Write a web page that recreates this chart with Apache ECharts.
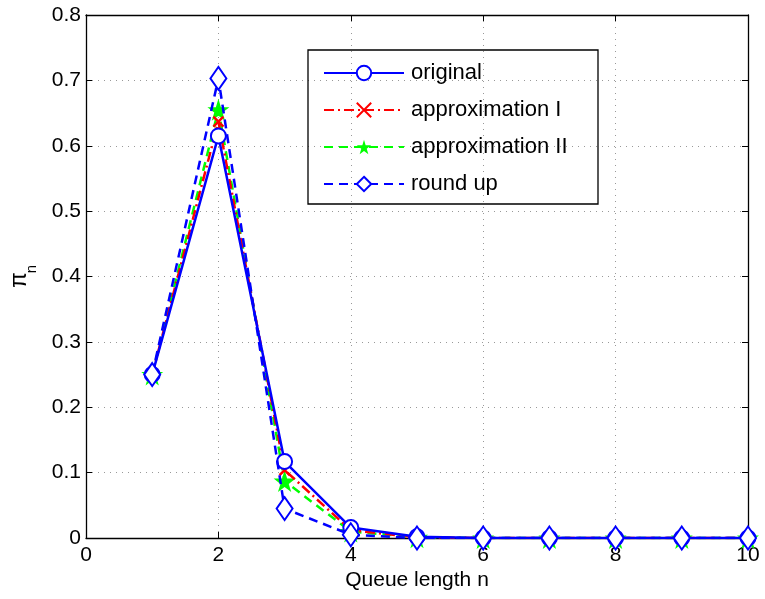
<!DOCTYPE html>
<html><head><meta charset="utf-8">
<script src="https://cdn.jsdelivr.net/npm/echarts@6/dist/echarts.min.js"></script>
<style>html,body{margin:0;padding:0;background:#fff}#c{width:765px;height:599px}</style>
</head><body><div id="c"></div>
<script>
const n = [1,2,3,4,5,6,7,8,9,10];
const original = [0.25,0.615,0.117,0.016,0.002,0,0,0,0,0];
const approx1  = [0.25,0.637,0.104,0.012,0.001,0,0,0,0,0];
const approx2  = [0.25,0.655,0.087,0.010,0.001,0,0,0,0,0];
const roundUp  = [0.25,0.703,0.045,0.005,0,0,0,0,0,0];
const seriesNames = ['original','approximation I','approximation II','round up'];
const xTicks = [0,2,4,6,8,10];
const yTicks = [0,0.1,0.2,0.3,0.4,0.5,0.6,0.7,0.8];

const font = 'Liberation Sans, Arial, sans-serif';
const pair = arr => n.map((v,i)=>[v,arr[i]]);
const star = 'path://M50,0 L61,35 L98,35 L68,57 L79,91 L50,70 L21,91 L32,57 L2,35 L39,35 Z';
const cross = 'path://M0,0 L10,10 M10,0 L0,10';

const chart = echarts.init(document.getElementById('c'), null, {renderer:'canvas'});
const gridLine = {show:true, lineStyle:{color:'#999', type:[1,5], width:1}};
chart.setOption({
  animation:false,
  backgroundColor:'#fff',
  grid:{left:86,right:17,top:15,bottom:61,containLabel:false},
  xAxis:[{type:'value',min:0,max:10,interval:2,
    axisLine:{onZero:false,lineStyle:{color:'#000',width:1.3}},
    axisTick:{inside:true,length:6,lineStyle:{color:'#000'}},
    axisLabel:{color:'#000',fontSize:21,fontFamily:font,margin:7,formatter:v=>xTicks.includes(v)?String(v):''},
    splitLine:gridLine},
   {type:'value',min:0,max:10,interval:2,position:'top',
    axisLine:{onZero:false,lineStyle:{color:'#000',width:1.3}},
    axisTick:{inside:true,length:6,lineStyle:{color:'#000'}},
    axisLabel:{show:false},splitLine:{show:false}}],
  yAxis:[{type:'value',min:0,max:0.8,interval:0.1,
    axisLine:{show:true,onZero:false,lineStyle:{color:'#000',width:1.3}},
    axisTick:{show:true,inside:true,length:6,lineStyle:{color:'#000'}},
    axisLabel:{color:'#000',fontSize:21,fontFamily:font,margin:5,formatter:v=>{const t=yTicks.find(y=>Math.abs(y-v)<1e-9);return t===undefined?'':(t===0?'0':t.toFixed(1));}},
    splitLine:gridLine},
   {type:'value',min:0,max:0.8,interval:0.1,position:'right',
    axisLine:{show:true,onZero:false,lineStyle:{color:'#000',width:1.3}},
    axisTick:{show:true,inside:true,length:6,lineStyle:{color:'#000'}},
    axisLabel:{show:false},splitLine:{show:false}}],
  legend:{
    show:true, orient:'vertical', left:318, top:57, itemGap:15, itemWidth:80, itemHeight:18,
    data:seriesNames,
    textStyle:{fontSize:22,fontFamily:font,color:'#000',lineHeight:18,padding:[0,0,0,2]},
    borderWidth:0
  },
  graphic:[
    {type:'rect',shape:{x:308,y:50,width:290,height:154},style:{fill:'none',stroke:'#000',lineWidth:1.3},z:100},
    {type:'text',x:417,y:580,style:{text:'Queue length n',font:'21px '+font,fill:'#000',textAlign:'center',textVerticalAlign:'middle'}},
    {type:'text',x:20,y:280,rotation:Math.PI/2,style:{text:'π',font:'23px '+font,fill:'#000',textAlign:'center',textVerticalAlign:'middle'}},
    {type:'text',x:32,y:269,rotation:Math.PI/2,style:{text:'n',font:'15px '+font,fill:'#000',textAlign:'center',textVerticalAlign:'middle'}}
  ],
  series:[
    {name:seriesNames[0],type:'line',data:pair(original),symbol:'emptyCircle',symbolSize:15,
     lineStyle:{color:'#0000ff',width:2.5,type:'solid'},itemStyle:{color:'#0000ff',borderWidth:2.2},z:5},
    {name:seriesNames[1],type:'line',data:pair(approx1),symbol:cross,symbolSize:10,
     lineStyle:{color:'#ff0000',width:2.5,type:[10,4,2,4]},itemStyle:{color:'none',borderColor:'#ff0000',borderWidth:2.5},z:4},
    {name:seriesNames[2],type:'line',data:pair(approx2),symbol:star,symbolSize:22,
     lineStyle:{color:'#00ff00',width:2.5,type:[9,6]},itemStyle:{color:'#00ff00',borderColor:'#00ff00',borderWidth:0},z:3},
    {name:seriesNames[3],type:'line',data:pair(roundUp),symbol:'emptyDiamond',symbolSize:[16,23],
     lineStyle:{color:'#0000ff',width:2.5,type:[9,6]},itemStyle:{color:'#0000ff',borderWidth:2.2},z:6}
  ]
});
</script></body></html>
